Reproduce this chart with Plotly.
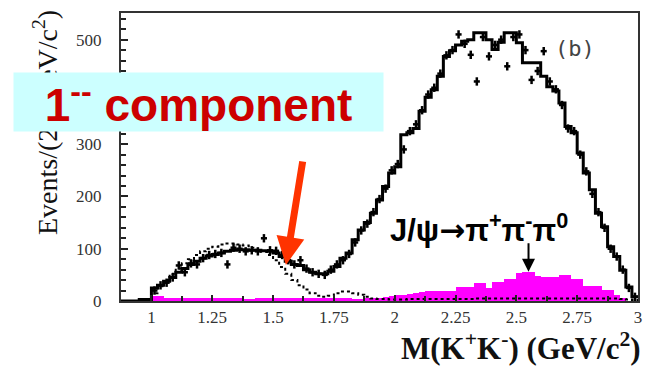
import plotly.graph_objects as go

# ---- data (25 MeV bins starting at 0.875 GeV/c^2) ----
bin_start = 0.875
bin_width = 0.025

# total fit histogram (solid), 85 bins 0.875 .. 3.0
fit_total = [0, 0, 0, 3, 3,
             25, 30, 38, 45, 55, 62, 70, 76, 82, 86,
             89, 92, 95, 97, 98, 98, 97, 97, 96, 95,
             92, 85, 76, 70, 68, 60, 55, 52, 52, 57,
             66, 82, 92, 117, 136, 150, 168, 193, 219, 245,
             257, 318, 322, 330, 363, 390, 404, 430, 468, 479,
             490, 497, 500, 513, 513, 500, 481, 495, 513, 513,
             494, 456, 456, 456, 430, 410, 402, 379, 334, 322,
             283, 245, 213, 168, 142, 104, 85, 59, 27, 8]

# 1-- component (dotted)
comp_1mm = [0, 0, 0, 2, 2,
            15, 28, 40, 52, 62, 72, 80, 88, 95, 100,
            104, 108, 110, 110, 108, 106, 102, 98, 94, 88,
            78, 65, 52, 40, 30, 22, 15, 10, 8, 10,
            15, 18, 18, 15, 12, 8, 5, 4, 4, 3,
            3, 3, 4, 4, 4, 4, 4, 4, 4, 4,
            4, 4, 4, 5, 5, 5, 5, 5, 5, 5,
            5, 5, 5, 5, 5, 5, 5, 5, 5, 5,
            5, 5, 5, 5, 5, 5, 5, 4, 3, 2]

# J/psi -> pi+ pi- pi0 background (magenta)
bkg_3pi = [0, 0, 0, 0, 0,
           10, 9, 6, 5, 5, 6, 6, 6, 5, 5,
           5, 5, 5, 5, 5, 4, 3, 5, 5, 5,
           5, 5, 5, 5, 5, 5, 5, 5, 5, 5,
           5, 6, 5, 4, 4, 5, 6, 6, 7, 10,
           11, 12, 13, 16, 18, 20, 20, 20, 20, 20,
           27, 27, 27, 34, 34, 25, 37, 37, 43, 43,
           53, 56, 56, 47, 45, 45, 45, 50, 50, 43,
           43, 29, 29, 29, 21, 21, 11, 6, 0, 0]

# data points, bins from 1.0 to 3.0
data_start = 1.0
data_vals = [20, 30, 35, 45, 68, 55, 72, 70, 82, 88,
             90, 92, 70, 102, 100, 95, 97, 95, 120, 97,
             96, 88, 78, 70, 78, 62, 55, 52, 50, 60,
             70, 78, 90, 112, 135, 148, 170, 195, 215, 250,
             262, 290, 325, 338, 365, 395, 408, 435, 470, 480,
             510, 492, 471, 420, 505, 468, 490, 500, 449, 505,
             510, 480, 423, 440, 478, 420, 405, 375, 330, 325,
             280, 248, 205, 170, 140, 100, 85, 60, 25, 8]
data_err = 8

x_ticks = [1, 1.25, 1.5, 1.75, 2, 2.25, 2.5, 2.75, 3]
x_ticktext = ["1", "1.25", "1.5", "1.75", "2", "2.25", "2.5", "2.75", "3"]
y_ticks = [0, 100, 200, 300, 400, 500]

# ---- helpers ----
n = len(fit_total)
edges = [bin_start + i * bin_width for i in range(n + 1)]
centers = [bin_start + (i + 0.5) * bin_width for i in range(n)]


def step(vals):
    return edges, list(vals) + [vals[-1]]


data_x = [data_start + (i + 0.5) * bin_width for i in range(len(data_vals))]

fig = go.Figure()

fig.add_trace(go.Bar(x=centers, y=bkg_3pi, width=bin_width,
                     marker=dict(color="#ff00ff", line=dict(width=0)),
                     showlegend=False))

sx, sy = step(comp_1mm)
fig.add_trace(go.Scatter(x=sx, y=sy, mode="lines", line_shape="hv",
                         line=dict(color="black", width=2, dash="dot"),
                         showlegend=False))

sx, sy = step(fit_total)
fig.add_trace(go.Scatter(x=sx, y=sy, mode="lines", line_shape="hv",
                         line=dict(color="black", width=3),
                         showlegend=False))

fig.add_trace(go.Scatter(x=data_x, y=data_vals, mode="markers",
                         marker=dict(size=1, color="black"),
                         error_x=dict(type="constant", value=bin_width / 2,
                                      thickness=2.5, width=0, color="black"),
                         error_y=dict(type="constant", value=data_err,
                                      thickness=2.5, width=0, color="black"),
                         showlegend=False))

serif = "Liberation Serif"
fig.update_layout(
    width=653, height=367,
    margin=dict(l=121, r=15, t=13, b=66),
    paper_bgcolor="white", plot_bgcolor="white",
    bargap=0,
    xaxis=dict(range=[0.875, 3.0], tickvals=x_ticks, ticktext=x_ticktext,
               ticks="inside", ticklen=6, tickwidth=1.5, tickcolor="#222",
               minor=dict(dtick=0.125, ticks="inside", ticklen=5, tickwidth=1.5, tickcolor="#222"),
               showgrid=False, zeroline=False,
               showline=True, linecolor="#333", linewidth=2, mirror=True,
               tickfont=dict(family=serif, size=17, color="#333")),
    yaxis=dict(range=[0, 551], tickvals=y_ticks,
               ticks="inside", ticklen=7, tickwidth=1.5, tickcolor="#222",
               minor=dict(dtick=20, ticks="inside", ticklen=5, tickwidth=1.5, tickcolor="#222"),
               showgrid=False, zeroline=False,
               showline=True, linecolor="#333", linewidth=2, mirror=True,
               ticklabelstandoff=14,
               tickfont=dict(family=serif, size=17, color="#333")),
)

C = dict(xanchor="center", yanchor="middle")

# axis titles
fig.add_annotation(xref="paper", yref="paper", x=-0.147, y=0.618, **C,
                   text="Events/(25 MeV/c<sup>2</sup>)", textangle=-90,
                   showarrow=False, font=dict(family=serif, size=28, color="#111"))
fig.add_annotation(xref="paper", yref="paper", x=1.01, y=-0.157, xanchor="right", yanchor="middle",
                   text="<b>M(K<sup>+</sup>K<sup>-</sup>) (GeV/c<sup>2</sup>)</b>",
                   showarrow=False, font=dict(family=serif, size=31, color="#111"))

# panel label
fig.add_annotation(xref="paper", yref="paper", x=0.878, y=0.878, text="(b)", **C,
                   showarrow=False, font=dict(family="DejaVu Sans Mono", size=22, color="#444"))

# 1-- component box
fig.add_annotation(xref="paper", yref="paper", x=0.15, y=0.691, **C,
                   text="<b>1<sup>--</sup> component</b>", showarrow=False,
                   width=369, height=58, borderpad=0, bgcolor="#ccffff",
                   font=dict(family="Liberation Sans", size=46, color="#cc0000"))

# red arrow
fig.add_annotation(xref="paper", yref="paper", x=0.319, y=0.125,
                   ax=17, ay=-105, text="", showarrow=True,
                   arrowhead=2, arrowsize=0.8, arrowwidth=7, arrowcolor="#ff3300")

# J/psi label and arrow
fig.add_annotation(xref="paper", yref="paper", x=0.6925, y=0.255, **C,
                   text="<b>J/ψ<span style=\"font-family:DejaVu Sans\">→</span>π<sup>+</sup>π<sup>-</sup>π<sup>0</sup></b>",
                   showarrow=False, font=dict(family="Liberation Sans", size=31, color="black"))
fig.add_annotation(x=2.55, y=56, ax=0, ay=-30, text="", showarrow=True,
                   arrowhead=2, arrowsize=1.3, arrowwidth=2, arrowcolor="black")

fig.write_html("out.html")
